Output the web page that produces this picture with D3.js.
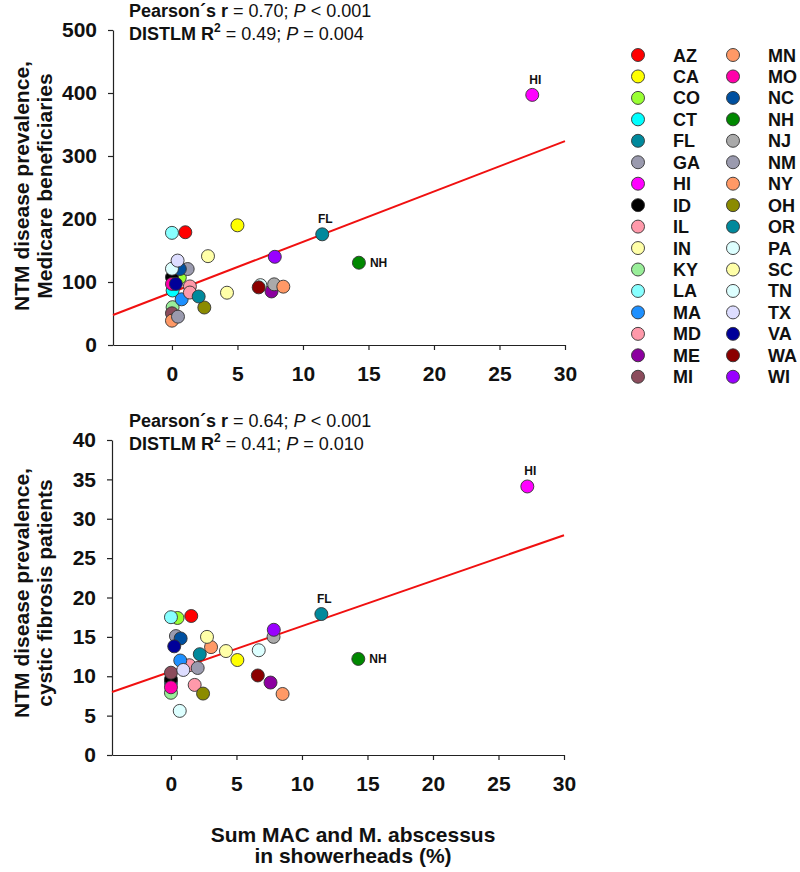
<!DOCTYPE html>
<html><head><meta charset="utf-8">
<script src="https://cdn.jsdelivr.net/npm/d3@7"></script>
<style>body{margin:0;background:#fff}svg{display:block}text{font-family:"Liberation Sans",Arial,sans-serif}</style>
</head><body><svg id="c" width="800" height="872"></svg>
<script>
const states = ["AZ","CA","CO","CT","FL","GA","HI","ID","IL","IN","KY","LA","MA","MD","ME","MI","MN","MO","NC","NH","NJ","NM","NY","OH","OR","PA","SC","TN","TX","VA","WA","WI"];
const colors = ["#ff0000","#ffff00","#99ff33","#00ffff","#00899c","#9a9aae","#ff00ff","#000000","#ff99aa","#ffffa8","#99ee99","#88ffff","#1e90ff","#ff99aa","#8c00a0","#8b4c5c","#ff9966","#ff00aa","#0050a0","#008800","#aaaaaa","#9a9aae","#ff9966","#8b8b00","#00899c","#ddffff","#ffffa8","#ddffff","#ddddff","#000099","#8b0000","#9900ff"];
const xMedicare = [1.02,5.0,0.6,0.05,11.47,1.2,27.5,0,1.37,4.2,0.05,0,0.74,1.37,7.6,0,0,0,0.6,14.27,7.8,0.46,8.5,2.47,2.04,0,2.75,6.75,0.43,0.3,6.62,7.85];
const yMedicare = [179,190,107,86.5,175.7,120.6,397,107.5,93,83,60,178,72.5,83.3,85,50.3,38.6,97,120.6,130.6,96.3,45,92.6,59.5,77,121,141,95,134,97,91.5,140];
const xCF = [1.55,5.07,0.5,0,11.48,0.38,27.2,0,1.4,4.2,0,0,0.71,1.81,7.6,0,3.06,0,0.74,14.3,7.83,2.04,8.52,2.45,2.2,0.67,2.75,6.7,0.94,0.25,6.63,7.85];
const yCF = [17.65,12.06,17.4,9.2,17.9,15.1,34.1,9.6,11.4,13.2,7.9,17.5,12.0,8.9,9.2,10.45,13.7,8.6,14.8,12.2,15.0,11.05,7.75,7.8,12.8,5.6,15.0,13.3,10.8,13.8,10.1,15.9];
const labelled = ["HI","FL","NH"];
const xTicks = [0,5,10,15,20,25,30];
const yTicksMedicare = [0,100,200,300,400,500];
const yTicksCF = [0,5,10,15,20,25,30,35,40];
const trendMedicare = [83.7, 8.0];   // intercept, slope
const trendCF = [10.6, 0.577];
const xDomain = [-4.5, 30];

const svg = d3.select("#c");
const F = '"Liberation Sans",Arial,sans-serif';

function panel(opt){
  const x = d3.scaleLinear().domain(xDomain).range(opt.xr);
  const y = d3.scaleLinear().domain(opt.yd).range(opt.yr);
  const g = svg.append("g");
  const ax = g.append("g").attr("transform",`translate(${opt.xr[0]},0)`)
    .call(d3.axisLeft(y).tickValues(opt.yt).tickSize(5).tickSizeOuter(0).tickPadding(11));
  const bx = g.append("g").attr("transform",`translate(0,${opt.yr[0]})`)
    .call(d3.axisBottom(x).tickValues(xTicks).tickSize(5).tickSizeOuter(0).tickPadding(16));
  [ax,bx].forEach(a=>{
    a.selectAll("path,line").attr("stroke","#222").attr("stroke-width",1.2);
    a.selectAll("text").attr("font-family",F).attr("font-size",21).attr("font-weight","bold").attr("fill","#111");
  });
  // trend line
  g.append("line")
    .attr("x1",x(xDomain[0])).attr("y1",y(opt.trend[0]+opt.trend[1]*xDomain[0]))
    .attr("x2",x(xDomain[1])).attr("y2",y(opt.trend[0]+opt.trend[1]*xDomain[1]))
    .attr("stroke","#f01010").attr("stroke-width",2);
  // points
  g.selectAll("circle.pt").data(states).join("circle").attr("class","pt")
    .attr("cx",(d,i)=>x(opt.xs[i])).attr("cy",(d,i)=>y(opt.ys[i])).attr("r",6.5)
    .attr("fill",(d,i)=>colors[i]).attr("stroke","#333").attr("stroke-width",0.9);
  // point labels
  states.forEach((s,i)=>{
    if(!labelled.includes(s)) return;
    const px = x(opt.xs[i]), py = y(opt.ys[i]);
    const t = g.append("text").attr("font-family",F).attr("font-size",12).attr("font-weight","bold").attr("fill","#111").text(s);
    if(s==="NH") t.attr("x",px+11).attr("y",py+4);
    else t.attr("x",px+3).attr("y",py-11).attr("text-anchor","middle");
  });
  // header
  const h1 = g.append("text").attr("x",129).attr("y",opt.hy).attr("font-family",F).attr("font-size",18).attr("fill","#111");
  h1.append("tspan").attr("font-weight","bold").text("Pearson´s r");
  h1.append("tspan").text(" = "+opt.r+"; ");
  h1.append("tspan").attr("font-style","italic").text("P");
  h1.append("tspan").text(" < 0.001");
  const h2 = g.append("text").attr("x",129).attr("y",opt.hy+23).attr("font-family",F).attr("font-size",18).attr("fill","#111");
  h2.append("tspan").attr("font-weight","bold").text("DISTLM R");
  h2.append("tspan").attr("font-weight","bold").attr("font-size",12).attr("dy",-8).text("2");
  h2.append("tspan").attr("dy",8).text(" = "+opt.r2+"; ");
  h2.append("tspan").attr("font-style","italic").text("P");
  h2.append("tspan").text(" = "+opt.p2);
  // y title
  opt.ytitle.forEach((line,k)=>{
    g.append("text").attr("transform",`translate(${29+k*23},${opt.yc}) rotate(-90)`)
      .attr("text-anchor","middle").attr("font-family",F).attr("font-size",21).attr("font-weight","bold").attr("fill","#111").text(line);
  });
}

panel({xr:[113,565], yd:[0,500], yr:[345,30], yt:yTicksMedicare, xs:xMedicare, ys:yMedicare, trend:trendMedicare,
  hy:17, r:"0.70", r2:"0.49", p2:"0.004", ytitle:["NTM disease prevalence,","Medicare beneficiaries"], yc:186});
panel({xr:[112,564], yd:[0,40], yr:[755,440], yt:yTicksCF, xs:xCF, ys:yCF, trend:trendCF,
  hy:427, r:"0.64", r2:"0.41", p2:"0.010", ytitle:["NTM disease prevalence,","cystic fibrosis patients"], yc:593});

// x title
["Sum MAC and M. abscessus","in showerheads (%)"].forEach((l,k)=>{
  svg.append("text").attr("x",353).attr("y",842+k*21).attr("text-anchor","middle")
    .attr("font-family",F).attr("font-size",21).attr("font-weight","bold").attr("fill","#111").text(l);
});

// legend
const rows = 16;
const lg = svg.append("g");
states.forEach((s,i)=>{
  const col = Math.floor(i/rows), row = i%rows;
  const cx = col===0?638:733, cy = 55+row*21.45;
  lg.append("circle").attr("cx",cx).attr("cy",cy).attr("r",6.5).attr("fill",colors[i]).attr("stroke","#333").attr("stroke-width",0.9);
  lg.append("text").attr("x",cx+35).attr("y",cy+6.5).attr("font-family",F).attr("font-size",18).attr("font-weight","bold").attr("fill","#111").text(s);
});
</script></body></html>
